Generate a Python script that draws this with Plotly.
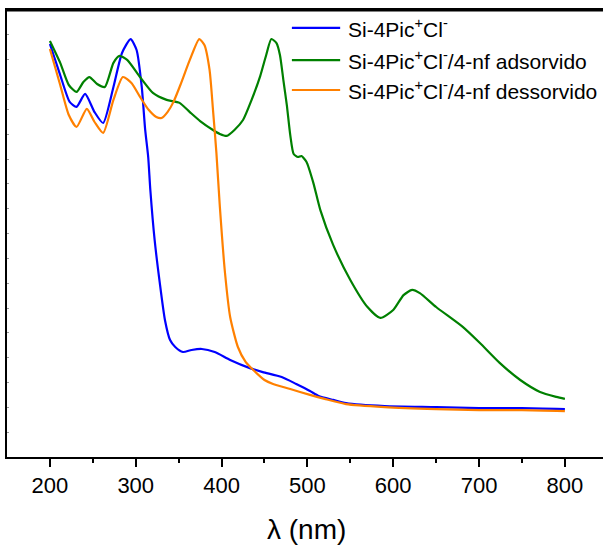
import plotly.graph_objects as go

# Wavelengths (nm) and absorbance (a.u.)
wl_blue = [200, 212, 223, 231, 241, 252, 262, 274, 284, 294, 301, 307, 311, 314.5, 317, 322, 328, 334, 340, 346,
           355, 365, 377, 392, 410, 433, 448, 470, 487, 503, 513, 530, 545, 590, 650, 700, 750, 800]
abs_blue = [1.663, 1.538, 1.430, 1.410, 1.462, 1.389, 1.345, 1.490, 1.627, 1.683, 1.639, 1.490, 1.317, 1.208,
            1.075, 0.874, 0.701, 0.552, 0.471, 0.443, 0.423, 0.431, 0.435, 0.423, 0.391, 0.358, 0.342, 0.322,
            0.294, 0.266, 0.246, 0.230, 0.217, 0.205, 0.201, 0.197, 0.197, 0.193]

wl_green = [200, 212, 222, 231, 239, 246, 255, 264, 274, 281, 290, 305, 320, 336, 351, 363, 375, 390, 398, 406,
            415, 425, 435, 445, 452, 458, 464, 468, 472, 476, 480, 484, 489, 493, 499, 507, 515, 530, 550, 570,
            585, 600, 612, 622, 631, 650, 681, 701, 724, 748, 771, 790, 800]
abs_green = [1.675, 1.587, 1.498, 1.470, 1.510, 1.530, 1.502, 1.490, 1.587, 1.615, 1.599, 1.530, 1.466, 1.438,
             1.426, 1.389, 1.353, 1.317, 1.301, 1.293, 1.317, 1.357, 1.438, 1.534, 1.619, 1.683, 1.667, 1.619,
             1.518, 1.418, 1.297, 1.220, 1.208, 1.212, 1.188, 1.103, 0.995, 0.854, 0.713, 0.604, 0.560, 0.592,
             0.652, 0.673, 0.660, 0.604, 0.524, 0.459, 0.379, 0.310, 0.262, 0.242, 0.234]

wl_orange = [200, 212, 222, 231, 243, 252, 262, 274, 285, 295, 305, 315, 324, 330, 337, 344, 352, 363, 374, 380,
             386, 390, 394, 398, 404, 410, 419, 428, 437, 450, 460, 480, 503, 520, 545, 590, 650, 700, 750, 800]
abs_orange = [1.643, 1.498, 1.377, 1.329, 1.402, 1.349, 1.305, 1.438, 1.530, 1.506, 1.450, 1.398, 1.369, 1.365,
              1.389, 1.430, 1.498, 1.599, 1.683, 1.659, 1.559, 1.398, 1.224, 1.007, 0.741, 0.564, 0.443, 0.383,
              0.350, 0.310, 0.294, 0.274, 0.250, 0.234, 0.213, 0.201, 0.193, 0.189, 0.189, 0.185]

names = ["Si-4Pic<sup>+</sup>Cl<sup>-</sup>",
         "Si-4Pic<sup>+</sup>Cl<sup>-</sup>/4-nf adsorvido",
         "Si-4Pic<sup>+</sup>Cl<sup>-</sup>/4-nf dessorvido"]
colors = ["#0000FF", "#008000", "#FF8000"]
x_ticks = [200, 300, 400, 500, 600, 700, 800]

FONT = "Arial, Liberation Sans, sans-serif"

fig = go.Figure()
for wl, ab, nm, c in [(wl_blue, abs_blue, names[0], colors[0]),
                      (wl_green, abs_green, names[1], colors[1]),
                      (wl_orange, abs_orange, names[2], colors[2])]:
    fig.add_trace(go.Scatter(x=wl, y=ab, mode="lines", name=nm, showlegend=False,
                             line=dict(color=c, width=2.2, shape="spline", smoothing=0.6)))

# top frame line
fig.add_shape(type="line", xref="paper", yref="paper", x0=0, x1=1, y0=0.999, y1=0.999,
              layer="above", line=dict(color="black", width=2))

# custom legend
leg_y = [0.960, 0.888, 0.821]
for nm, c, yy in zip(names, colors, leg_y):
    fig.add_shape(type="line", xref="paper", yref="paper", x0=0.478, x1=0.559, y0=yy, y1=yy,
                  line=dict(color=c, width=2.2))
    fig.add_annotation(xref="paper", yref="paper", x=0.568, y=yy, text=nm, showarrow=False,
                       xanchor="left", yanchor="middle", font=dict(family=FONT, size=21, color="#000"))

fig.add_annotation(xref="paper", yref="paper", x=0.502, y=-0.163, text="λ (nm)", showarrow=False,
                   xanchor="center", yanchor="middle", font=dict(family=FONT, size=28, color="#000"))

fig.update_layout(
    width=603, height=548,
    margin=dict(l=7, r=0, t=10, b=91, autoexpand=False),
    paper_bgcolor="white", plot_bgcolor="white",
    font=dict(family=FONT, color="#000"),
    xaxis=dict(range=[150, 844.4], showline=True, linecolor="black", linewidth=2, mirror=True,
               automargin=False,
               showgrid=False, zeroline=False, tickmode="array", tickvals=x_ticks,
               ticks="outside", ticklen=8, tickwidth=2, tickcolor="black",
               tickfont=dict(size=22, family=FONT),
               minor=dict(tickmode="array", tickvals=[250, 350, 450, 550, 650, 750],
                          ticks="outside", ticklen=4, tickwidth=1.5, tickcolor="black")),
    yaxis=dict(range=[0, 1.8], showline=True, linecolor="black", linewidth=2, mirror=False,
               automargin=False,
               showgrid=False, zeroline=False, showticklabels=False, dtick=0.1,
               ticks="inside", ticklen=2, tickwidth=1, tickcolor="#999999"),
)

fig.write_html("out.html", config={"displayModeBar": False},
               post_script="document.body.style.margin='0';document.body.style.overflow='hidden';")
